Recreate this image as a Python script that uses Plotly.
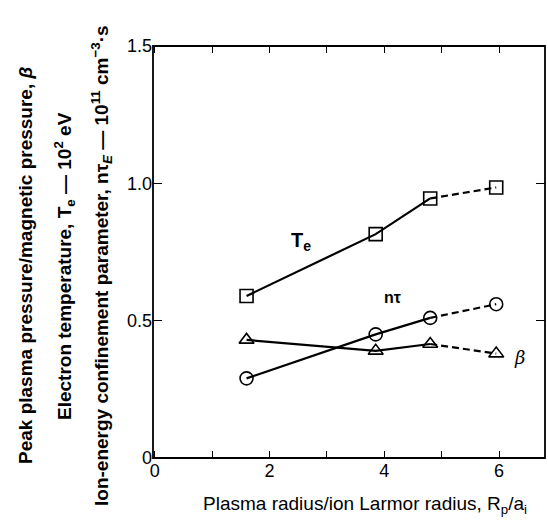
import plotly.graph_objects as go

# Plasma radius / ion Larmor radius
radius_ratio = [1.6, 3.85, 4.8, 5.95]
# Electron temperature, 10^2 eV
te_values = [0.59, 0.815, 0.945, 0.985]
# Ion-energy confinement parameter, 10^11 cm^-3 s
ntau_values = [0.29, 0.45, 0.51, 0.56]
# Peak plasma pressure / magnetic pressure
beta_values = [0.43, 0.39, 0.415, 0.38]

y_tick_vals = [0, 0.5, 1.0, 1.5]
y_tick_text = ["0", "0.5", "1.0", "1.5"]
x_tick_vals = [0, 2, 4, 6]
x_tick_text = ["0", "2", "4", "6"]

W, H = 548, 532
ML, MR, MT, MB = 153, 3, 46, 74
FONT = "Liberation Sans, Arial, sans-serif"
plot_w = W - ML - MR
plot_h = H - MT - MB

fig = go.Figure()

series = [
    (te_values, "square-open"),
    (ntau_values, "circle-open"),
    (beta_values, "triangle-up-open"),
]
for vals, sym in series:
    # measured points joined by a solid line
    fig.add_trace(go.Scatter(
        x=radius_ratio[:3], y=vals[:3], mode="lines",
        line=dict(color="black", width=2.2), showlegend=False, hoverinfo="skip"))
    # extrapolated point joined by a dashed line
    fig.add_trace(go.Scatter(
        x=radius_ratio[2:], y=vals[2:], mode="lines",
        line=dict(color="black", width=2.2, dash="7px,4px"), showlegend=False,
        hoverinfo="skip"))
    fig.add_trace(go.Scatter(
        x=radius_ratio, y=vals, mode="markers",
        marker=dict(symbol=sym, size=13, color="black",
                    line=dict(color="black", width=1.6)),
        showlegend=False))

# curve labels
fig.add_annotation(x=2.55, y=0.79, text="<b>T<sub>e</sub></b>", showarrow=False,
                   font=dict(family=FONT, size=20, color="black"))
fig.add_annotation(x=4.15, y=0.585, text="<b>nτ</b>", showarrow=False,
                   font=dict(family=FONT, size=16, color="black"))
fig.add_annotation(x=6.36, y=0.365, text="<i>β</i>", showarrow=False,
                   font=dict(family="DejaVu Serif, serif", size=18, color="black"))

# stacked y-axis titles
y_titles = [
    (25, "Peak plasma pressure/magnetic pressure, <i>β</i>"),
    (64, "Electron temperature, T<sub>e</sub> — 10<sup>2</sup> eV"),
    (101, "Ion-energy confinement parameter, nτ<sub><i>E</i></sub> — 10<sup>11</sup> cm<sup>−3</sup>·s"),
]
for px, txt in y_titles:
    fig.add_annotation(
        xref="paper", yref="paper", x=(px - ML) / plot_w, y=(H - MB - 266) / plot_h,
        xanchor="center", yanchor="middle", textangle=-90, text="<b>" + txt + "</b>",
        showarrow=False, font=dict(family=FONT, size=19, color="black"))

# x-axis title
fig.add_annotation(
    xref="paper", yref="paper", x=(365 - ML) / plot_w, y=-(505 - (H - MB)) / plot_h,
    xanchor="center", yanchor="middle",
    text="Plasma radius/ion Larmor radius, R<sub>p</sub>/a<sub>i</sub>",
    showarrow=False, font=dict(family=FONT, size=19, color="black"))

# plot frame
fig.add_shape(type="rect", xref="paper", yref="paper", x0=0, x1=1, y0=0, y1=1,
              line=dict(color="black", width=1.8), layer="above")

fig.update_layout(
    width=W, height=H, autosize=False,
    margin=dict(l=ML, r=MR, t=MT, b=MB, autoexpand=False),
    paper_bgcolor="white", plot_bgcolor="white",
    font=dict(family=FONT, color="black"),
    xaxis=dict(
        range=[-0.03, 6.8], tickvals=x_tick_vals, ticktext=x_tick_text,
        ticks="inside", ticklen=7, tickwidth=1.2, tickcolor="black",
        minor=dict(dtick=1, ticks="inside", ticklen=7, tickwidth=1.2, tickcolor="black"),
        showline=False, mirror="ticks",
        showgrid=False, zeroline=False, automargin=False,
        tickfont=dict(family=FONT, size=18, color="black"),
    ),
    yaxis=dict(
        range=[0, 1.5], tickvals=y_tick_vals, ticktext=y_tick_text,
        ticks="inside", ticklen=9, tickwidth=1.2, tickcolor="black",
        showline=False, mirror="ticks",
        showgrid=False, zeroline=False, automargin=False,
        tickfont=dict(family=FONT, size=18, color="black"),
    ),
)

fig.write_html("out.html", config={"responsive": False})
